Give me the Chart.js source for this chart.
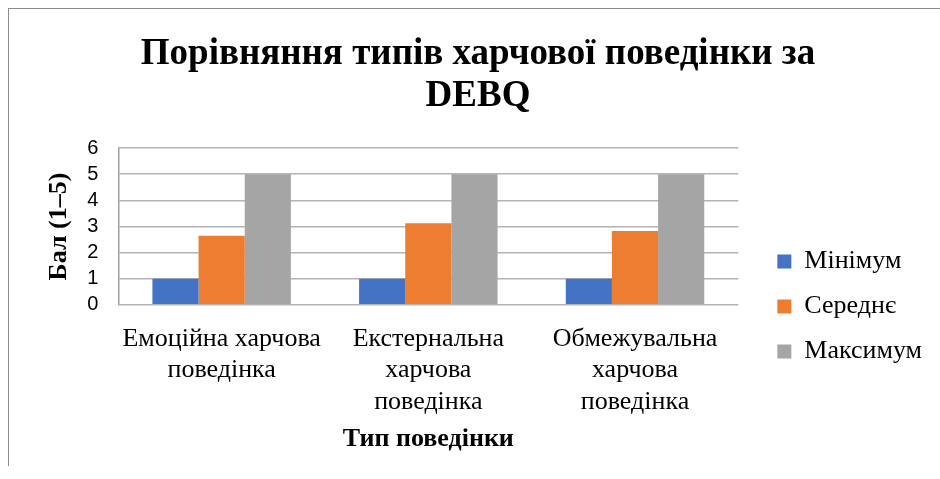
<!DOCTYPE html>
<html>
<head>
<meta charset="utf-8">
<script src="https://cdn.jsdelivr.net/npm/chart.js@4"></script>
<style>
  html, body { margin: 0; padding: 0; background: #fff; }
  #frame {
    position: absolute; left: 8px; top: 8px; width: 932px; height: 457px;
    border-left: 1px solid #8c8c8c; border-top: 1px solid #8c8c8c;
  }
  #chart { display: block; }
</style>
</head>
<body>
<div id="frame"><canvas id="chart" width="931" height="456"></canvas></div>
<script>
Chart.defaults.animation = false;

// --- Data ---
const categories = [
  ['Емоційна харчова', 'поведінка'],
  ['Екстернальна', 'харчова', 'поведінка'],
  ['Обмежувальна', 'харчова', 'поведінка']
];
const seriesNames = ['Мінімум', 'Середнє', 'Максимум'];
const minValues = [1, 1, 1];
const meanValues = [2.64, 3.12, 2.83];
const maxValues = [5, 5, 5];
const seriesColors = ['#4472C4', '#ED7D31', '#A5A5A5'];

const serif = "'Liberation Serif', 'DejaVu Serif', serif";
const sans = "'Liberation Sans', 'DejaVu Sans', sans-serif";

// legend: use the whole height below the title (centred like Excel does),
// and leave a gap between the plot and the legend
const legendPlacement = {
  id: 'legendPlacement',
  afterLayout(chart) {
    const lg = chart.legend;
    lg.top = chart.chartArea.top;
    lg.bottom = chart.height;
    lg.height = lg.bottom - lg.top;
    lg.left += 20;
    lg.right = chart.width;
    lg.width = lg.right - lg.left;
  }
};

const ctx = document.getElementById('chart').getContext('2d');
new Chart(ctx, {
  type: 'bar',
  data: {
    labels: categories,
    datasets: [minValues, meanValues, maxValues].map((vals, i) => ({
      label: seriesNames[i],
      data: vals,
      backgroundColor: seriesColors[i],
      borderWidth: 0
    }))
  },
  options: {
    responsive: false,
    layout: { padding: { left: 35, right: 28, top: 0, bottom: 13 } },
    datasets: { bar: { categoryPercentage: 0.67, barPercentage: 1 } },
    scales: {
      x: {
        grid: { display: false, drawTicks: false },
        border: { display: false },
        ticks: {
          color: '#000',
          font: { family: serif, size: 26, lineHeight: 1.22 },
          maxRotation: 0,
          autoSkip: false,
          padding: 18
        },
        title: {
          display: true,
          text: 'Тип поведінки',
          color: '#000',
          font: { family: serif, size: 26, weight: 'bold', lineHeight: 1 },
          padding: { top: -10, bottom: 0 }
        }
      },
      y: {
        min: 0,
        max: 6,
        ticks: {
          stepSize: 1,
          autoSkip: false,
          color: '#000',
          font: { family: sans, size: 20 },
          padding: 20
        },
        grid: { color: '#b4b4b4', lineWidth: 1.5, drawTicks: false },
        border: { display: true, color: '#a0a0a0', width: 1.5 },
        title: {
          display: true,
          text: 'Бал (1–5)',
          color: '#000',
          font: { family: serif, size: 26, weight: 'bold', lineHeight: 1.2 },
          padding: { top: 0, bottom: -8 }
        }
      }
    },
    plugins: {
      title: {
        display: true,
        text: ['Порівняння типів харчової поведінки за', 'DEBQ'],
        color: '#000',
        font: { family: serif, size: 37, weight: 'bold', lineHeight: 1.15 },
        padding: { top: 24, bottom: 30 }
      },
      legend: {
        position: 'right',
        labels: {
          color: '#000',
          font: { family: serif, size: 26 },
          boxWidth: 14,
          boxHeight: 14,
          padding: 19
        }
      },
      tooltip: { enabled: false }
    }
  },
  plugins: [legendPlacement]
});
</script>
</body>
</html>
